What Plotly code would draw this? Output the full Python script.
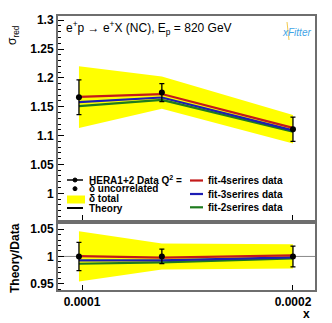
import plotly.graph_objects as go

# data
x_vals = [0.0000990, 0.000130, 0.000200]
data_vals = [1.1665, 1.1745, 1.111]
err_uncor = [0.030, 0.0155, 0.021]
err_total = [0.0535, 0.028, 0.0245]
fit4 = [1.167, 1.172, 1.1133]
fit3 = [1.158, 1.166, 1.109]
fit2 = [1.151, 1.162, 1.107]

y_ticks = [1.0, 1.05, 1.1, 1.15, 1.2, 1.25, 1.3]
y_ticktext = ["1", "1.05", "1.1", "1.15", "1.2", "1.25", "1.3"]
r_ticks = [0.95, 1.0, 1.05]
r_ticktext = ["0.95", "1", "1.05"]
x_ticks = [0.0001, 0.0002]
x_ticktext = ["0.0001", "0.0002"]

FONT = "Liberation Sans, Arial, Helvetica, sans-serif"
YELLOW = "#ffff00"
RED = "#c41a1a"
BLUE = "#1c1cb4"
GREEN = "#1e7b1e"

W, H = 332, 323
L, R, T, B = 57, 16, 15, 32
PW, PH = W - L - R, H - T - B


def px(xp):
    return (xp - L) / PW


def py(yp):
    return 1 - (yp - T) / PH


TOP_DOM = [py(221), 1]
BOT_DOM = [0, py(223)]

fig = go.Figure()


def band(xs, lo, hi, xa, ya):
    fig.add_trace(go.Scatter(
        x=xs + xs[::-1], y=hi + lo[::-1], fill="toself", fillcolor=YELLOW,
        line=dict(width=0), mode="lines", xaxis=xa, yaxis=ya,
        showlegend=False, hoverinfo="skip",
    ))


# top panel
band(x_vals,
     [d - e for d, e in zip(data_vals, err_total)],
     [d + e for d, e in zip(data_vals, err_total)], "x", "y")
for vals, col in [(fit2, GREEN), (fit3, BLUE), (fit4, RED)]:
    fig.add_trace(go.Scatter(x=x_vals, y=vals, mode="lines",
                             line=dict(color=col, width=2.2),
                             xaxis="x", yaxis="y", showlegend=False))
fig.add_trace(go.Scatter(
    x=x_vals, y=data_vals, mode="markers",
    marker=dict(color="black", size=6),
    error_y=dict(type="data", array=err_uncor, color="black",
                 thickness=1.3, width=2.5),
    xaxis="x", yaxis="y", showlegend=False,
))

# ratio panel
ones = [1.0 for _ in data_vals]
rel_tot = [e / d for d, e in zip(data_vals, err_total)]
rel_unc = [e / d for d, e in zip(data_vals, err_uncor)]
band(x_vals, [1 - r for r in rel_tot], [1 + r for r in rel_tot], "x2", "y2")
for vals, col in [(fit2, GREEN), (fit3, BLUE), (fit4, RED)]:
    fig.add_trace(go.Scatter(x=x_vals, y=[v / d for v, d in zip(vals, data_vals)],
                             mode="lines", line=dict(color=col, width=2.2),
                             xaxis="x2", yaxis="y2", showlegend=False))
fig.add_trace(go.Scatter(
    x=x_vals, y=ones, mode="markers",
    marker=dict(color="black", size=6),
    error_y=dict(type="data", array=rel_unc, color="black",
                 thickness=1.3, width=2.5),
    xaxis="x2", yaxis="y2", showlegend=False,
))

xrange = [-4.0357, -3.6661]
tickfont = dict(family=FONT, size=12, color="black", weight="bold")

fig.update_layout(
    width=W, height=H,
    margin=dict(l=L, r=R, t=T, b=B),
    paper_bgcolor="white", plot_bgcolor="white",
    font=dict(family=FONT, color="black"),
    showlegend=False,
    xaxis=dict(type="log", range=xrange, anchor="y", domain=[0, 1],
               tickvals=x_ticks, showticklabels=False, ticks="inside",
               ticklen=6, tickcolor="black", showgrid=False, zeroline=False),
    xaxis2=dict(type="log", range=xrange, anchor="y2", domain=[0, 1],
                matches="x", tickvals=x_ticks, ticktext=x_ticktext,
                ticks="inside", ticklen=6, tickcolor="black",
                tickfont=tickfont, showgrid=False, zeroline=False,
                showline=True, linecolor="black", linewidth=1),
    yaxis=dict(domain=TOP_DOM, range=[0.952, 1.309], anchor="x",
               tickvals=y_ticks, ticktext=y_ticktext, ticks="inside",
               ticklen=7, tickcolor="black", tickfont=tickfont,
               minor=dict(ticks="inside", ticklen=4, dtick=0.01,
                          tick0=1.0, tickcolor="black"),
               showgrid=False, zeroline=False, showline=True,
               linecolor="black", linewidth=1),
    yaxis2=dict(domain=BOT_DOM, range=[0.937, 1.061], anchor="x2",
                tickvals=r_ticks, ticktext=r_ticktext, ticks="inside",
                ticklen=7, tickcolor="black", tickfont=tickfont,
                minor=dict(ticks="inside", ticklen=4, dtick=0.01,
                           tick0=1.0, tickcolor="black"),
                showgrid=False, zeroline=False, showline=True,
                linecolor="black", linewidth=1),
)

# frames and reference line
fig.add_shape(type="rect", xref="paper", yref="paper", x0=0, x1=1,
              y0=TOP_DOM[0], y1=TOP_DOM[1], line=dict(color="#6e6e6e", width=2))
fig.add_shape(type="rect", xref="paper", yref="paper", x0=0, x1=1,
              y0=BOT_DOM[0], y1=BOT_DOM[1], line=dict(color="#6e6e6e", width=2))
fig.add_shape(type="line", xref="paper", yref="y2", x0=0, x1=1, y0=1, y1=1,
              line=dict(color="#888888", width=1), layer="below")

# labels
fig.add_annotation(text="e<sup>+</sup>p → e<sup>+</sup>X (NC), E<sub>p</sub> = 820 GeV",
                   xref="paper", yref="paper", x=px(64), y=py(28),
                   xanchor="left", yanchor="middle", showarrow=False,
                   font=dict(family=FONT, size=12))
fig.add_annotation(text="σ<sub>red</sub>", textangle=-90,
                   xref="paper", yref="paper", x=px(13), y=py(35),
                   xanchor="center", yanchor="middle", showarrow=False,
                   font=dict(family=FONT, size=12))
fig.add_annotation(text="<b>Theory/Data</b>", textangle=-90,
                   xref="paper", yref="paper", x=px(15), y=py(258),
                   xanchor="center", yanchor="middle", showarrow=False,
                   font=dict(family=FONT, size=12))
fig.add_annotation(text="<b>x</b>", xref="paper", yref="paper",
                   x=px(306), y=py(314), xanchor="center", yanchor="middle",
                   showarrow=False, font=dict(family=FONT, size=12))
fig.add_annotation(text="<i>xFitter</i>", xref="paper", yref="paper",
                   x=px(296), y=py(33), xanchor="center", yanchor="middle",
                   showarrow=False, font=dict(family=FONT, size=10, color="#3fa4e6"))
fig.add_shape(type="line", xref="paper", yref="paper", x0=px(287), x1=px(289),
              y0=py(22), y1=py(40), line=dict(color="#f2c94c", width=1))

# hand-made legend
left_rows = [
    ("HERA1+2 Data Q<sup>2</sup> =", 180, "linemarker"),
    ("δ uncorrelated", 188.7, "marker"),
    ("δ total", 198.3, "box"),
    ("Theory", 208, "line"),
]
for label, yy, kind in left_rows:
    if kind in ("linemarker", "line"):
        fig.add_shape(type="line", xref="paper", yref="paper",
                      x0=px(67), x1=px(83), y0=py(yy), y1=py(yy),
                      line=dict(color="black", width=1.5 if kind == "linemarker" else 2))
    if kind in ("linemarker", "marker"):
        fig.add_shape(type="circle", xref="paper", yref="paper",
                      x0=px(73), x1=px(77), y0=py(yy + 2), y1=py(yy - 2),
                      fillcolor="black", line=dict(color="black", width=1))
    if kind == "box":
        fig.add_shape(type="rect", xref="paper", yref="paper",
                      x0=px(67), x1=px(85), y0=py(203.5), y1=py(195.5),
                      fillcolor=YELLOW, line=dict(width=0))
    fig.add_annotation(text="<b>" + label + "</b>", xref="paper", yref="paper",
                       x=px(87), y=py(yy), xanchor="left", yanchor="middle",
                       showarrow=False, font=dict(family=FONT, size=10))

right_rows = [("fit-4serires data", 180.5, RED),
              ("fit-3serires data", 194, BLUE),
              ("fit-2serires data", 207.3, GREEN)]
for label, yy, col in right_rows:
    fig.add_shape(type="line", xref="paper", yref="paper",
                  x0=px(190), x1=px(203), y0=py(yy), y1=py(yy),
                  line=dict(color=col, width=2.2))
    fig.add_annotation(text="<b>" + label + "</b>", xref="paper", yref="paper",
                       x=px(206), y=py(yy), xanchor="left", yanchor="middle",
                       showarrow=False, font=dict(family=FONT, size=10))

fig.write_html("out.html", config={"displayModeBar": False},
               post_script="document.body.style.margin='0';")
